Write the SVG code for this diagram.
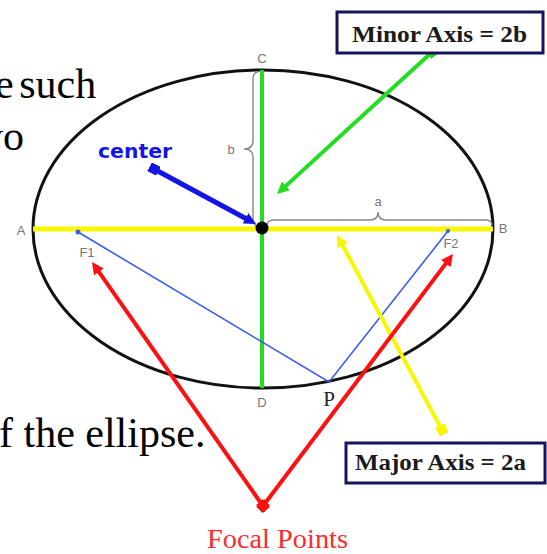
<svg xmlns="http://www.w3.org/2000/svg" width="547" height="554" viewBox="0 0 547 554">
<style>
.bg{font-family:"Liberation Serif","Times New Roman",serif;font-size:42px;fill:#000}
.lbl{font-family:"Liberation Sans",Arial,sans-serif;font-size:13px;fill:#777;text-anchor:middle}
.box{fill:#fff;stroke:#14145f;stroke-width:3}
.boxt{font-family:"Liberation Serif","Times New Roman",serif;font-weight:bold;font-size:23px;fill:#1a1a1a}
.brace{fill:none;stroke:#888;stroke-width:1.4}
</style>
<defs>
<marker id="hBlue" markerUnits="userSpaceOnUse" markerWidth="14" markerHeight="12" refX="4" refY="6" orient="auto"><path d="M0,0 L12,6 L0,12 z" fill="#1414e6"/></marker>
<marker id="hGreen" markerUnits="userSpaceOnUse" markerWidth="14" markerHeight="12" refX="4" refY="6" orient="auto"><path d="M0,0 L12,6 L0,12 z" fill="#22dd22"/></marker>
<marker id="hYellow" markerUnits="userSpaceOnUse" markerWidth="14" markerHeight="12" refX="4" refY="6" orient="auto"><path d="M0,0 L12,6 L0,12 z" fill="#f7f700"/></marker>
<marker id="hRed" markerUnits="userSpaceOnUse" markerWidth="14" markerHeight="12" refX="4" refY="6" orient="auto"><path d="M0,0 L12,6 L0,12 z" fill="#ff1010"/></marker>
<marker id="sBlue" markerUnits="userSpaceOnUse" markerWidth="10" markerHeight="10" refX="5" refY="5" orient="auto"><rect x="0" y="0" width="10" height="10" fill="#1414e6"/></marker>
<marker id="sGreen" markerUnits="userSpaceOnUse" markerWidth="10" markerHeight="10" refX="5" refY="5" orient="auto"><rect x="0" y="0" width="10" height="10" fill="#22dd22"/></marker>
<marker id="sYellow" markerUnits="userSpaceOnUse" markerWidth="10" markerHeight="10" refX="5" refY="5" orient="auto"><rect x="0" y="0" width="10" height="10" fill="#f7f700"/></marker>
<marker id="sRed" markerUnits="userSpaceOnUse" markerWidth="10" markerHeight="10" refX="5" refY="5" orient="auto"><rect x="0" y="0" width="10" height="10" fill="#ff1010"/></marker>
</defs>
<rect width="547" height="554" fill="#fff"/>

<g id="background-text">
<text class="bg" x="-5" y="98" word-spacing="-5">e such</text>
<text class="bg" x="24" y="150" text-anchor="end">wo</text>
<text class="bg" x="-1" y="447">f the ellipse.</text>
</g>

<g id="ellipse">
<ellipse cx="263" cy="229" rx="230" ry="159" fill="none" stroke="#111" stroke-width="3"/>
</g>

<g id="major-axis">
<line x1="33" y1="229" x2="493" y2="229" stroke="#f7f700" stroke-width="5"/>
</g>
<g id="minor-axis">
<line x1="262" y1="70" x2="262" y2="388" stroke="#22dd22" stroke-width="4"/>
</g>

<g id="braces">
<path class="brace" d="M258,72 Q253,72 253,80 L253,141 Q253,149 244,149 Q253,149 253,157 L253,218 Q253,226 258,226"/>
<path class="brace" d="M267,225 Q267,220 275,220 L370,220 Q378,220 378,212 Q378,220 386,220 L485,220 Q492,220 492,225"/>
</g>

<g id="focal-lines">
<polyline points="78,232 329,382 448,231" fill="none" stroke="#3a5cf0" stroke-width="1.6"/>
<circle cx="78" cy="232" r="2.5" fill="#3a5cf0"/>
<circle cx="448" cy="231" r="2" fill="#3a5cf0"/>
</g>

<g id="center">
<circle cx="262" cy="228" r="6.5" fill="#000"/>
</g>

<g id="connectors">
<line x1="154" y1="169" x2="249" y2="220.2" stroke="#1414e6" stroke-width="5" marker-start="url(#sBlue)" marker-end="url(#hBlue)"/>
<line x1="432" y1="52" x2="282.9" y2="188.6" stroke="#22dd22" stroke-width="4" marker-start="url(#sGreen)" marker-end="url(#hGreen)"/>
<line x1="442" y1="430" x2="340.8" y2="242" stroke="#f7f700" stroke-width="4" marker-start="url(#sYellow)" marker-end="url(#hYellow)"/>
<line x1="263" y1="506" x2="96.6" y2="268.6" stroke="#ff1010" stroke-width="4" marker-start="url(#sRed)" marker-end="url(#hRed)"/>
<line x1="263" y1="506" x2="448.2" y2="260.4" stroke="#ff1010" stroke-width="4" marker-start="url(#sRed)" marker-end="url(#hRed)"/>
</g>

<g id="labels">
<text class="lbl" x="262" y="63">C</text>
<text class="lbl" x="21" y="235">A</text>
<text class="lbl" x="503" y="233">B</text>
<text class="lbl" x="262" y="407">D</text>
<text class="lbl" x="87" y="257">F1</text>
<text class="lbl" x="451" y="248">F2</text>
<text class="lbl" x="378" y="206">a</text>
<text class="lbl" x="231" y="154">b</text>
<text x="329" y="406" font-family="'Liberation Serif','Times New Roman',serif" font-size="21" fill="#222" text-anchor="middle">P</text>
<text x="98" y="158" font-family="'DejaVu Sans',sans-serif" font-weight="bold" font-size="20" fill="#1414e6" textLength="74" lengthAdjust="spacingAndGlyphs">center</text>
</g>

<g id="minor-axis-box">
<rect class="box" x="337" y="12" width="206" height="41"/>
<text class="boxt" x="352" y="42" textLength="175" lengthAdjust="spacingAndGlyphs">Minor Axis = 2b</text>
</g>

<g id="major-axis-box">
<rect class="box" x="346" y="443" width="199" height="40"/>
<text class="boxt" x="355" y="470" textLength="171" lengthAdjust="spacingAndGlyphs">Major Axis = 2a</text>
</g>

<g id="focal-points-label">
<text x="207" y="548" font-family="'Liberation Serif','Times New Roman',serif" font-size="27" fill="#ff2a2a" textLength="141" lengthAdjust="spacingAndGlyphs">Focal Points</text>
</g>
</svg>
